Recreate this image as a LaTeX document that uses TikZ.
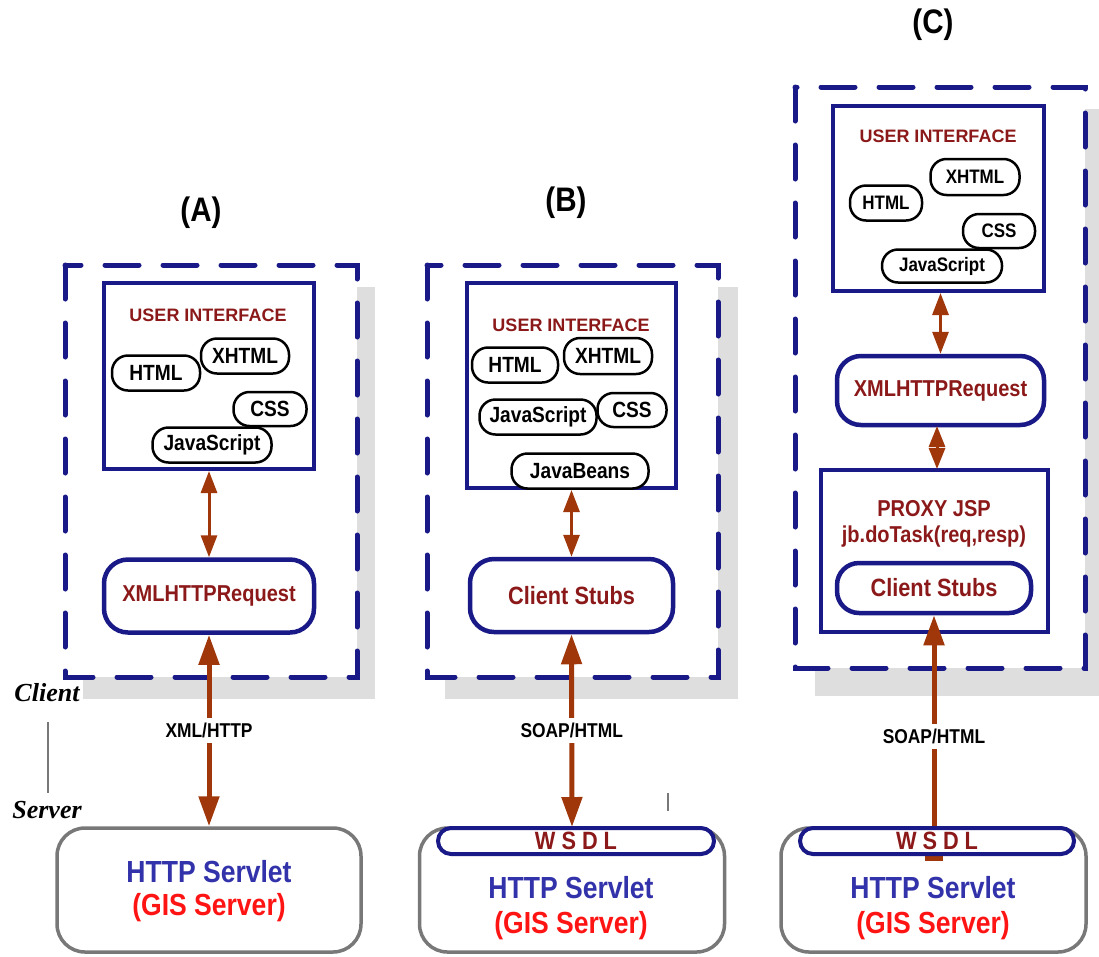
\documentclass[tikz,border=0pt]{standalone}
\usepackage{fontspec}
\setmainfont{Liberation Sans}
\newfontfamily\narrowsans[FakeStretch=0.87]{Liberation Sans}
\newfontfamily\serifbi{Liberation Serif}
\usetikzlibrary{arrows.meta}
\definecolor{navy}{RGB}{25,25,135}
\definecolor{darkred}{RGB}{140,25,25}
\definecolor{rust}{RGB}{160,55,10}
\definecolor{servgray}{RGB}{120,120,120}
\definecolor{servblue}{RGB}{50,50,170}
\definecolor{gisred}{RGB}{255,20,20}
\definecolor{shadowgray}{RGB}{222,222,222}
\tikzset{
  shadowbox/.style={fill=shadowgray, draw=none},
  dashbox/.style={draw=navy, fill=white, line width=5pt, dash pattern=on 34pt off 24pt, line cap=round},
  uibox/.style={draw=navy, fill=white, line width=4pt, inner sep=0pt},
  uititle/.style={text=darkred, inner sep=0pt, font=\bfseries\fontsize{18}{20}\selectfont},
  pill/.style={draw=black, fill=white, line width=2.5pt, rounded corners=16pt, inner sep=0pt, font=\narrowsans\bfseries\fontsize{22}{24}\selectfont},
  pillsmall/.style={pill, font=\narrowsans\bfseries\fontsize{19.5}{22}\selectfont},
  rbox/.style={draw=navy, fill=white, line width=4.5pt, rounded corners=24pt, inner sep=0pt, text=darkred, font=\narrowsans\bfseries\fontsize{23}{26}\selectfont},
  stubbox/.style={rbox, font=\narrowsans\bfseries\fontsize{25}{28}\selectfont},
  proxybox/.style={draw=navy, fill=white, line width=4pt, inner sep=0pt},
  proxytext/.style={text=darkred, inner sep=0pt, font=\narrowsans\bfseries\fontsize{23}{26}\selectfont},
  server/.style={draw=servgray, fill=white, line width=3.5pt, rounded corners=28pt, inner sep=0pt},
  servtext/.style={inner sep=0pt, font=\narrowsans\bfseries\fontsize{30.5}{34}\selectfont},
  wsdl/.style={draw=navy, fill=white, line width=4pt, rounded corners=13pt, inner sep=0pt, text=darkred, font=\narrowsans\bfseries\fontsize{25}{26}\selectfont},
  paneltitle/.style={inner sep=0pt, font=\narrowsans\bfseries\fontsize{34}{38}\selectfont},
  sidetext/.style={inner sep=0pt, font=\serifbi\bfseries\itshape\fontsize{26}{30}\selectfont},
  inarrow/.style={draw=rust, line width=3pt, arrows={Triangle[length=22pt,width=16pt]-Triangle[length=22pt,width=16pt]}},
  shortarrow/.style={draw=rust, line width=3pt, arrows={Triangle[length=21pt,width=16pt]-Triangle[length=21pt,width=16pt]}},
  mainarrow/.style={draw=rust, line width=5pt, arrows={Triangle[length=30pt,width=20pt]-Triangle[length=30pt,width=20pt]}},
  uparrow/.style={draw=rust, line width=5pt, arrows={Triangle[length=30pt,width=20pt]-}},
  lbl/.style={fill=white, inner xsep=2pt, inner ysep=5pt, text=black, font=\narrowsans\bfseries\fontsize{20}{22}\selectfont},
  sepline/.style={draw=servgray, line width=1.5pt}
}
\newcommand{\wsdltext}{W\hspace{6pt}S\hspace{6pt}D\hspace{6pt}L}
\begin{document}
\begin{tikzpicture}[x=1pt,y=-1pt]
\useasboundingbox (0,0) rectangle (1099,956);

% ---------- shadows and dashed client boxes ----------
\path[shadowbox] (83,287) rectangle (375,699);
\path[shadowbox] (445,287) rectangle (738,699);
\path[shadowbox] (815,109) rectangle (1099,696);
\path[dashbox] (65,265) rectangle (357,677);
\path[dashbox] (427,265) rectangle (718,677);
\path[dashbox] (795,87) rectangle (1085,668);

% ---------- titles ----------
\node[paneltitle] (tA) at (201,213) {(A)};
\node[paneltitle] (tB) at (566,203) {(B)};
\node[paneltitle] (tC) at (933,25) {(C)};

% ---------- panel A ----------
\node[uibox, minimum width=210pt, minimum height=186pt] (uiA) at (209,376) {};
\node[uititle] (uitA) at (208,315) {USER INTERFACE};
\node[pill, minimum width=88pt, minimum height=35pt] (htmlA) at (156,373) {HTML};
\node[pill, minimum width=88pt, minimum height=35pt] (xhtmlA) at (245,356) {XHTML};
\node[pill, minimum width=73pt, minimum height=34pt] (cssA) at (270,409) {CSS};
\node[pill, minimum width=119pt, minimum height=35pt] (jsA) at (212,445) {JavaScript};
\node[rbox, minimum width=210pt, minimum height=73pt] (xhA) at (209,596) {XMLHTTPRequest};

% ---------- panel B ----------
\node[uibox, minimum width=209pt, minimum height=205pt] (uiB) at (571.5,385.5) {};
\node[uititle] (uitB) at (571,325) {USER INTERFACE};
\node[pill, minimum width=86pt, minimum height=35pt] (htmlB) at (515,365) {HTML};
\node[pill, minimum width=88pt, minimum height=36pt] (xhtmlB) at (608,356) {XHTML};
\node[pill, minimum width=69pt, minimum height=34pt] (cssB) at (632,410) {CSS};
\node[pill, minimum width=117pt, minimum height=35pt] (jsB) at (538,417) {JavaScript};
\node[pill, minimum width=137pt, minimum height=35pt] (jbB) at (580,471) {JavaBeans};
\node[stubbox, minimum width=203pt, minimum height=73pt] (csB) at (571.5,595.5) {Client Stubs};

% ---------- panel C ----------
\node[uibox, minimum width=211pt, minimum height=185pt] (uiC) at (938.5,198.5) {};
\node[uititle] (uitC) at (938,136) {USER INTERFACE};
\node[pillsmall, minimum width=89pt, minimum height=36pt] (xhtmlC) at (975,177) {XHTML};
\node[pillsmall, minimum width=72pt, minimum height=35pt] (htmlC) at (886,203) {HTML};
\node[pillsmall, minimum width=72pt, minimum height=34pt] (cssC) at (999,231) {CSS};
\node[pillsmall, minimum width=120pt, minimum height=33pt] (jsC) at (942,266) {JavaScript};
\node[rbox, minimum width=207pt, minimum height=69pt] (xhC) at (940.5,390.5) {XMLHTTPRequest};
\node[proxybox, minimum width=227pt, minimum height=162pt] (proxyC) at (934.5,551) {};
\node[proxytext] (pjC) at (934,509) {PROXY JSP};
\node[proxytext] (jbC) at (934,537) {jb.doTask(req,resp)};
\node[stubbox, rounded corners=22pt, minimum width=194pt, minimum height=50pt] (csC) at (934,588) {Client Stubs};

% ---------- client / server separator ----------
\node[sidetext] (clientlbl) at (47,693) {Client};
\node[sidetext] (serverlbl) at (47,810) {Server};
\coordinate (sepTop) at (48,722);
\coordinate (sepBot) at (48,793);
\draw[sepline] (sepTop) -- (sepBot);
\coordinate (tickT) at (668,793);
\coordinate (tickB) at (668,811);
\draw[sepline] (tickT) -- (tickB);

% ---------- servers ----------
\node[server, minimum width=304pt, minimum height=124pt] (srvA) at (209,890) {};
\node[servtext, text=servblue] (hsA) at (209,872) {HTTP Servlet};
\node[servtext, text=gisred] (gsA) at (209,908) {(GIS Server)};

\node[server, minimum width=305pt, minimum height=124pt] (srvB) at (572,890) {};
\node[servtext, text=servblue] (hsB) at (571,888) {HTTP Servlet};
\node[servtext, text=gisred] (gsB) at (571,926) {(GIS Server)};

\node[server, minimum width=305pt, minimum height=124pt] (srvC) at (933.5,890) {};
\node[servtext, text=servblue] (hsC) at (933,888) {HTTP Servlet};
\node[servtext, text=gisred] (gsC) at (933,926) {(GIS Server)};

% ---------- arrows ----------
\draw[inarrow] (uiA.south) -- (xhA.north);
\draw[mainarrow] (xhA.south) -- (srvA.north) node[lbl, pos=0.5] (lblA) {XML/HTTP};

\draw[inarrow] (uiB.south -| csB.north) -- (csB.north);
\coordinate (wsdlBtop) at (572,827);
\draw[mainarrow] (csB.south) -- (wsdlBtop) node[lbl, pos=0.5] (lblB) {SOAP/HTML};

\draw[inarrow] (uiC.south -| xhC.north) -- (xhC.north);
\coordinate (shortTop) at (937,426);
\coordinate (shortBot) at (937,469);
\draw[shortarrow] (shortTop) -- (shortBot);
\coordinate (cEnd) at (934,858);
\draw[uparrow] (csC.south) -- (cEnd) node[lbl, pos=0.5] (lblC) {SOAP/HTML};
\fill[rust] (925,852) rectangle (943,861);

% ---------- WSDL bars ----------
\node[wsdl, minimum width=276pt, minimum height=26pt] (wsdlB) at (576,841) {\wsdltext};
\node[wsdl, minimum width=274pt, minimum height=26pt] (wsdlC) at (937,841) {\wsdltext};
\end{tikzpicture}
\end{document}
